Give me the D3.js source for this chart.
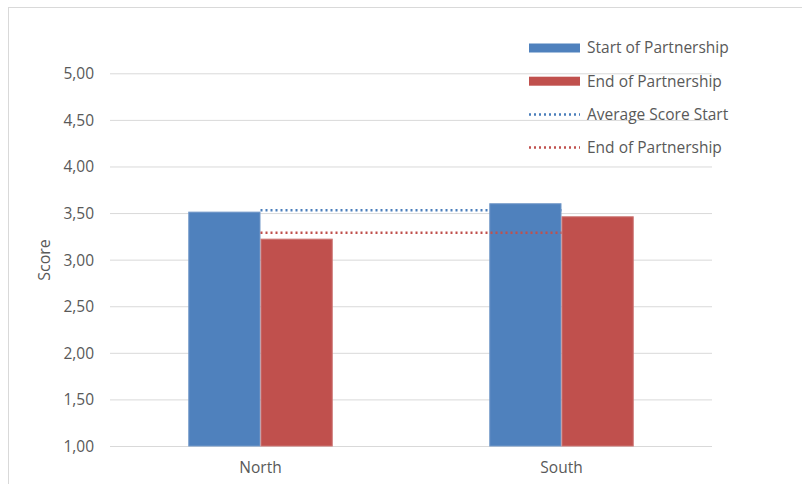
<!DOCTYPE html>
<html><head><meta charset="utf-8">
<script src="https://cdn.jsdelivr.net/npm/d3@7"></script>
<style>html,body{margin:0;padding:0;background:#fff;}svg{display:block;}text{font-family:"Open Sans",sans-serif;fill:#595959;}</style>
</head><body><div id="chart"></div>
<script>
const categories = ["North", "South"];
const seriesNames = ["Start of Partnership", "End of Partnership"];
const startValues = [3.51, 3.60];
const endValues = [3.22, 3.46];
const avgStart = [3.53, 3.53];
const avgEnd = [3.29, 3.29];
const yTicks = [1.0, 1.5, 2.0, 2.5, 3.0, 3.5, 4.0, 4.5, 5.0];
const legendLabels = ["Start of Partnership", "End of Partnership", "Average Score Start", "End of Partnership"];

const W = 802, H = 484;
const svg = d3.select("#chart").append("svg").attr("width", W).attr("height", H);

// chart frame
svg.append("line").attr("x1", 8.5).attr("x2", 8.5).attr("y1", 7).attr("y2", H).attr("stroke", "#d9d9d9");
svg.append("line").attr("x1", 8).attr("x2", W).attr("y1", 7.5).attr("y2", 7.5).attr("stroke", "#d9d9d9");

const x0 = d3.scaleBand().domain(categories).range([110, 712]).paddingInner(0.52).paddingOuter(0.26);
const x1 = d3.scaleBand().domain(seriesNames).range([0, x0.bandwidth()]);
const y = d3.scaleLinear().domain([1, 5]).range([446, 73.3]);
const colors = {"Start of Partnership": "#4F81BD", "End of Partnership": "#C0504D"};
const strokes = {"Start of Partnership": "#7398c8", "End of Partnership": "#cc7573"};
const fmt = d3.formatLocale({decimal: ",", thousands: ".", grouping: [3], currency: ["", ""]}).format(".2f");

// gridlines
const yAxis = d3.axisLeft(y).tickValues(yTicks).tickSize(-(712 - 110)).tickPadding(16).tickFormat(fmt);
const gy = svg.append("g").attr("transform", "translate(110,0)").call(yAxis);
gy.select(".domain").remove();
gy.selectAll(".tick line").attr("stroke", "#d9d9d9").attr("stroke-width", 1);
gy.selectAll(".tick text").attr("font-size", 15.5).attr("fill", "#595959").attr("dy", "0.35em");

const line = d3.line().x((d, i) => x0(categories[i]) + x0.bandwidth() / 2).y(d => y(d));

// blue average line (hidden by the blue bar where they overlap)
svg.append("path").datum(avgStart).attr("d", line).attr("fill", "none")
  .attr("stroke", "#4A7EBB").attr("stroke-width", 2.5).attr("stroke-dasharray", "2,3");

// bars
const data = categories.map((c, i) => ({cat: c, vals: [{s: seriesNames[0], v: startValues[i]}, {s: seriesNames[1], v: endValues[i]}]}));
const groups = svg.append("g").selectAll("g").data(data).join("g")
  .attr("transform", d => `translate(${x0(d.cat)},0)`);
groups.selectAll("rect").data(d => d.vals).join("rect")
  .attr("x", d => x1(d.s) + 0.5)
  .attr("width", x1.bandwidth() - 1)
  .attr("y", d => y(d.v))
  .attr("height", d => y(1) - y(d.v))
  .attr("fill", d => colors[d.s])
  .attr("stroke", d => strokes[d.s])
  .attr("stroke-width", 1);

// red average line
svg.append("path").datum(avgEnd).attr("d", line).attr("fill", "none")
  .attr("stroke", "#C0504D").attr("stroke-width", 2.5).attr("stroke-dasharray", "2,3");

// x labels
svg.append("g").selectAll("text").data(categories).join("text")
  .attr("x", d => x0(d) + x0.bandwidth() / 2).attr("y", 473)
  .attr("text-anchor", "middle").attr("font-size", 15.5).text(d => d);

// y title
svg.append("text").attr("transform", "translate(50,260) rotate(-90)")
  .attr("text-anchor", "middle").attr("font-size", 16).text("Score");

// legend
const legendTypes = ["bar", "bar", "line", "line"];
const legendColors = ["#4F81BD", "#C0504D", "#4A7EBB", "#C0504D"];
const lg = svg.append("g").selectAll("g").data(legendLabels).join("g")
  .attr("transform", (d, i) => `translate(529,${48 + i * 33.2})`);
lg.each(function(d, i) {
  const g = d3.select(this);
  if (legendTypes[i] === "bar") {
    g.append("rect").attr("x", 0).attr("y", -4.5).attr("width", 51).attr("height", 9).attr("fill", legendColors[i]);
  } else {
    g.append("line").attr("x1", 0).attr("x2", 51).attr("y1", 0).attr("y2", 0)
      .attr("stroke", legendColors[i]).attr("stroke-width", 2.5).attr("stroke-dasharray", "2,3");
  }
  g.append("text").attr("x", 58).attr("y", 0).attr("dy", "0.35em").attr("font-size", 15.5).text(d);
});
</script></body></html>
